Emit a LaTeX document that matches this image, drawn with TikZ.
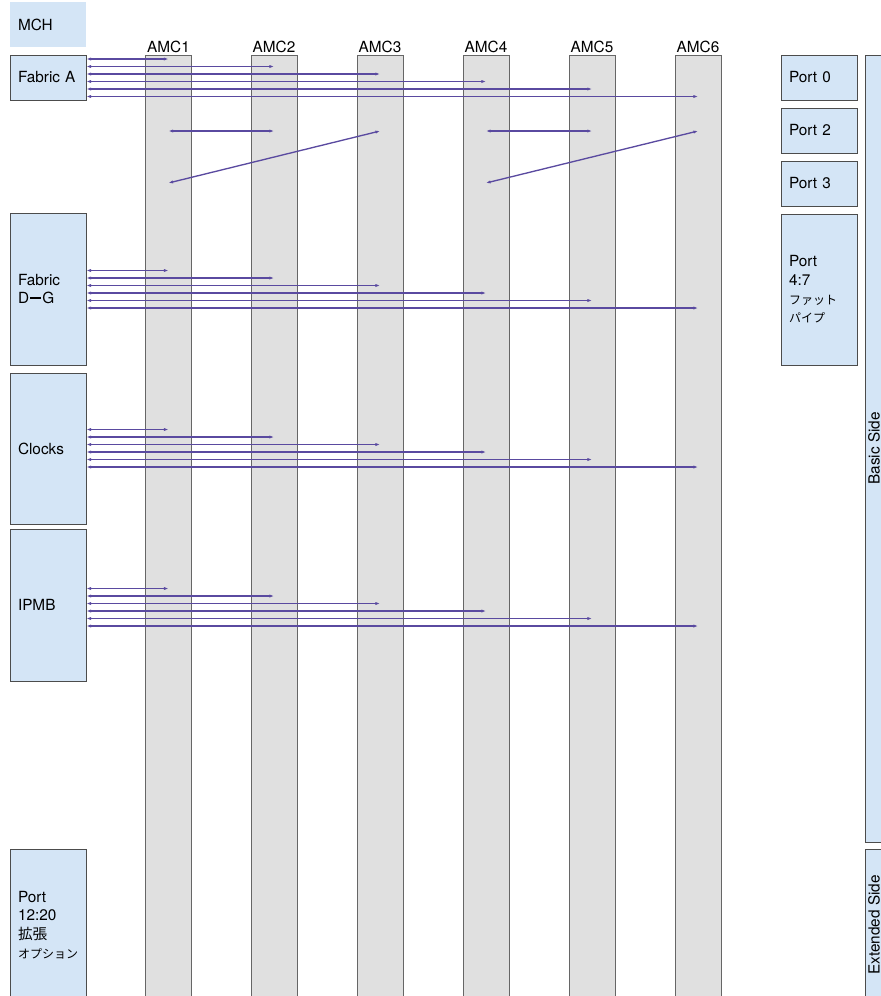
\documentclass[tikz,border=0pt]{standalone}
\usepackage{fontspec}
\setmainfont{TeX Gyre Heros}
\newfontfamily\jpfont{Noto Sans CJK JP}
\usetikzlibrary{arrows.meta}
\usetikzlibrary{positioning}

\definecolor{boxblue}{RGB}{212,229,246}
\definecolor{slotgray}{RGB}{224,224,224}
\definecolor{linkpurple}{RGB}{90,74,160}
\newcommand{\px}{0.75pt}
\newcommand{\jp}[2][9]{{\jpfont\fontsize{#1}{14}\selectfont #2}}

\tikzset{
  every node/.style={font=\fontsize{11.5}{14}\selectfont},
  blockbox/.style={rectangle, fill=boxblue, draw=black!70, line width=0.7pt,
    minimum width=76*\px, text width=60*\px, inner xsep=8*\px, align=left},
  sidebar/.style={rectangle, fill=boxblue, draw=black!70, line width=0.7pt,
    minimum width=21*\px, inner sep=0pt},
  slot/.style={rectangle, fill=slotgray, draw=black!60, line width=0.7pt,
    minimum width=46*\px, minimum height=945*\px, inner sep=0pt},
  link/.style={linkpurple, line width=1pt,
    {Latex[length=3.4pt,width=2.4pt]}-{Latex[length=3.4pt,width=2.4pt]}}
}

\begin{document}
\begin{tikzpicture}[x=\px, y=-\px]
  \useasboundingbox (0,0) rectangle (881,996);

  % AMC slots
  \foreach \i/\xx in {1/168.5, 2/274, 3/380, 4/486, 5/592, 6/698}
    \node[slot, label={[inner sep=1pt]above:AMC\i}] (amc\i) at (\xx,527.5) {};

  % MCH side
  \node[blockbox, draw=none, minimum height=45*\px] (mch) at (48,24.5) {MCH};
  \node[blockbox, minimum height=45*\px] (fabA) at (48,77.5) {Fabric A};
  \node[blockbox, minimum height=152*\px] (fabDG) at (48,289)
    {Fabric\\D\kern1pt\rule[0.3em]{0.7em}{0.13em}\kern1pt G};
  \node[blockbox, minimum height=151*\px] (clk) at (48,448.5) {Clocks};
  \node[blockbox, minimum height=152*\px] (ipmb) at (48,605) {IPMB};
  \node[blockbox, minimum height=152*\px] (port12) at (48,925)
    {Port\\12:20\\\jp[11]{拡張}\\\jp{オプション}};

  % ports
  \node[blockbox, minimum height=45*\px] (port0) at (819,77.5) {Port 0};
  \node[blockbox, minimum height=45*\px] (port2) at (819,130.5) {Port 2};
  \node[blockbox, minimum height=45*\px] (port3) at (819,183.5) {Port 3};
  \node[blockbox, minimum height=151*\px] (port4) at (819,289.5)
    {Port\\4:7\\\jp{ファット}\\\jp{パイプ}};

  % sides
  \node[sidebar, minimum height=787*\px] (basic) at (875.5,448.5) {};
  \node[rotate=90] at ([xshift=-1.5*\px]basic.center) {Basic Side};
  \node[sidebar, minimum height=152*\px] (ext) at (875.5,925) {};
  \node[rotate=90] at ([xshift=-1.5*\px]ext.center) {Extended Side};

  % links from MCH blocks to every AMC
  \foreach \src/\ystart in {fabA/59, fabDG/270.5, clk/429.5, ipmb/588.5}{
    \foreach \i in {1,...,6}{
      \pgfmathsetmacro{\yy}{\ystart+7.5*(\i-1)}
      \draw[link] (\src.east |- 0,\yy) -- (amc\i |- 0,\yy);
    }
  }

  % links between AMCs
  \draw[link] (amc1 |- 0,131) -- (amc2 |- 0,131);
  \draw[link] (amc3 |- 0,131) -- (amc1 |- 0,183);
  \draw[link] (amc4 |- 0,131) -- (amc5 |- 0,131);
  \draw[link] (amc6 |- 0,131) -- (amc4 |- 0,183);
\end{tikzpicture}
\end{document}
